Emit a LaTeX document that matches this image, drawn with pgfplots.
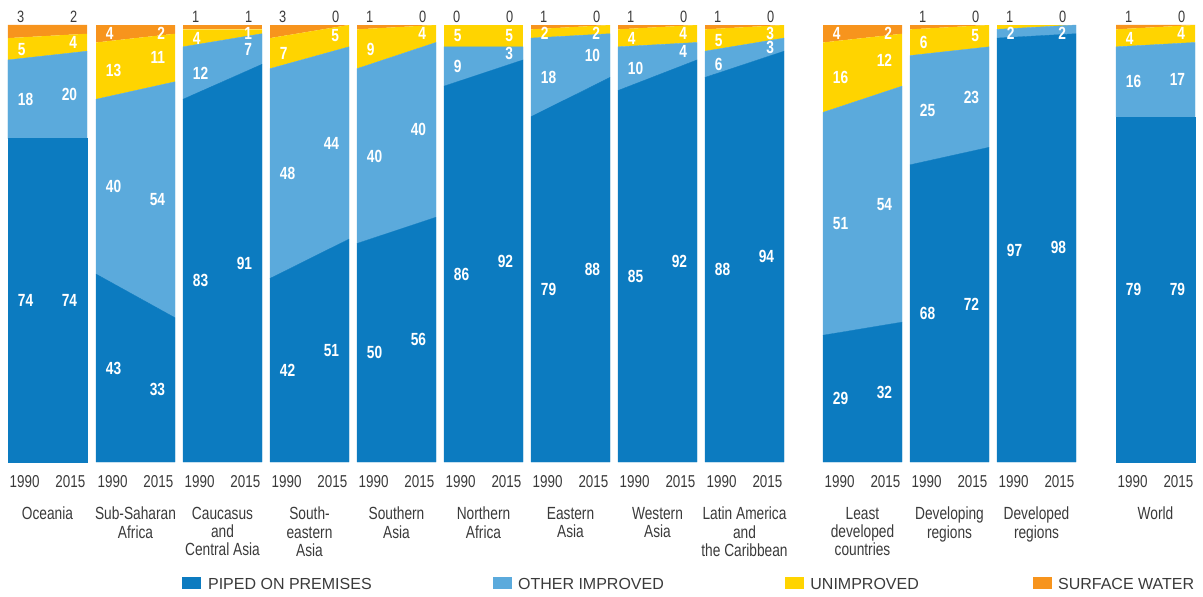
\documentclass[border=0pt]{standalone}
\usepackage{fontspec}
\setmainfont{Liberation Sans}
\newfontfamily\condfont{Liberation Sans}[FakeStretch=0.78]
\newfontfamily\valfont{Liberation Sans Bold}[FakeStretch=0.78]
\usepackage{pgfplots}
\pgfplotsset{compat=1.18}

\definecolor{piped}{HTML}{0C7BC0}
\definecolor{other}{HTML}{5BAADC}
\definecolor{unimp}{HTML}{FFD400}
\definecolor{surf}{HTML}{F7941D}
\definecolor{txt}{HTML}{3A3A3A}

% 1 px of the reference = 0.5pt; panels 79px wide, 437px high, bottom at 67pt
\pgfplotsset{
  panel/.style={scale only axis, width=39.5pt, height=218.5pt,
    xmin=0, xmax=1, ymin=0, ymax=100, axis lines=none,
    stack plots=y, clip=false, anchor=south west},
}
\tikzset{
  vl/.style={inner sep=0pt, text=white, font=\valfont\fontsize{8.8}{9}\selectfont},
  tl/.style={inner sep=0pt, text=txt, font=\condfont\fontsize{8.2}{9}\selectfont},
  yl/.style={inner sep=0pt, text=txt, font=\condfont\fontsize{8.6}{9}\selectfont},
  nl/.style={inner sep=0pt, text=txt, align=center, font=\condfont\fontsize{8.8}{9.15}\selectfont},
  lg/.style={inner sep=0pt, text=txt, anchor=base west, font=\fontsize{8}{9}\selectfont},
}

\def\oBadj{0}% nudge for a crowded 2015 label
% left(px), piped 1990/2015, other, unimproved, surface water
\newcommand\panel[9]{\def\pL{#1}\def\pA{#2}\def\pB{#3}\def\oA{#4}\def\oB{#5}%
  \def\uA{#6}\def\uB{#7}\def\sA{#8}\def\sB{#9}\panelbody}
% value label at 1990 / 2015 side, centred at percentage #1 (kept clear of the top)
\newcommand\labA[2]{\node[vl, anchor=west] at ({(\pL+9.5)*0.5pt},{67pt+min(#1,98.1)*2.185pt}) {#2};}
\newcommand\labB[2]{\node[vl, anchor=east] at ({(\pL+69.5)*0.5pt},{67pt+min(#1,98.1)*2.185pt}) {#2};}
\newcommand\panelbody[2]{%
\begin{axis}[panel, at={(\pL*0.5pt,67pt)}]
  \addplot[fill=piped, draw=piped, line width=0.2pt] coordinates {(0,\pA) (1,\pB)} \closedcycle;
  \addplot[fill=other, draw=other, line width=0.2pt] coordinates {(0,\oA) (1,\oB)} \closedcycle;
  \addplot[fill=unimp, draw=none] coordinates {(0,\uA) (1,\uB)} \closedcycle;
  \addplot[fill=surf, draw=none] coordinates {(0,\sA) (1,\sB)} \closedcycle;
  \node[yl, anchor=base west, yshift=-12.65pt] at (rel axis cs:0.016,0) {1990};
  \node[yl, anchor=base east, yshift=-12.65pt] at (rel axis cs:0.984,0) {2015};
  \node[nl, anchor=north, yshift=-22.3pt] at (rel axis cs:0.5,0) {#1};
\end{axis}
  \labA{\pA/2}{\pA}
  \labB{\pB/2}{\pB}
  \labA{\pA+\oA/2}{\oA}
  \labB{\pB+\oB/2+\oBadj}{\oB}
  #2}
\newcommand\uLab{\labA{\pA+\oA+\uA/2}{\uA}\labB{\pB+\oB+\uB/2}{\uB}}
\newcommand\sLab{\labA{\pA+\oA+\uA+\sA/2}{\sA}\labB{\pB+\oB+\uB+\sB/2}{\sB}}
\newcommand\topLab[2]{%
  \node[tl, anchor=base west] at ({(\pL+8.7)*0.5pt},286.85pt) {#1};
  \node[tl, anchor=base east] at ({(\pL+69.6)*0.5pt},286.85pt) {#2};}

\begin{document}
\begin{tikzpicture}
\path[use as bounding box] (0,0) rectangle (601.5pt,298pt);

\panel{8}{74}{74}{18}{20}{5}{4}{3}{2}{Oceania}{\uLab\topLab{3}{2}}
\panel{96}{43}{33}{40}{54}{13}{11}{4}{2}{Sub-Saharan\\Africa}{\uLab\sLab}
\panel{183}{83}{91}{12}{7}{4}{1}{1}{1}{Caucasus\\and\\Central Asia}{\uLab\topLab{1}{1}}
\panel{270}{42}{51}{48}{44}{7}{5}{3}{0}{South-\\eastern\\Asia}{\uLab\topLab{3}{0}}
\panel{357}{50}{56}{40}{40}{9}{4}{1}{0}{Southern\\Asia}{\uLab\topLab{1}{0}}
\panel{444}{86}{92}{9}{3}{5}{5}{0}{0}{Northern\\Africa}{\uLab\topLab{0}{0}}
\panel{531}{79}{88}{18}{10}{2}{2}{1}{0}{Eastern\\Asia}{\uLab\topLab{1}{0}}
\panel{618}{85}{92}{10}{4}{4}{4}{1}{0}{Western\\Asia}{\uLab\topLab{1}{0}}
\def\oBadj{-0.7}
\panel{705}{88}{94}{6}{3}{5}{3}{1}{0}{Latin America\\and\\the Caribbean}{\uLab\topLab{1}{0}}
\def\oBadj{0}
\panel{823}{29}{32}{51}{54}{16}{12}{4}{2}{Least\\developed\\countries}{\uLab\sLab}
\panel{910}{68}{72}{25}{23}{6}{5}{1}{0}{Developing\\regions}{\uLab\topLab{1}{0}}
\panel{997}{97}{98}{2}{2}{1}{0}{0}{0}{Developed\\regions}{\topLab{1}{0}}
\panel{1116}{79}{79}{16}{17}{4}{4}{1}{0}{World}{\uLab\topLab{1}{0}}

% legend
\fill[piped] (91.15pt,3.35pt) rectangle ++(9.2pt,6pt);
\node[lg] at (103.85pt,3.35pt) {PIPED ON PREMISES};
\fill[other] (246.65pt,3.35pt) rectangle ++(9.2pt,6pt);
\node[lg] at (258.85pt,3.35pt) {OTHER IMPROVED};
\fill[unimp] (392.65pt,3.35pt) rectangle ++(9.2pt,6pt);
\node[lg] at (405pt,3.35pt) {UNIMPROVED};
\fill[surf] (516.65pt,3.35pt) rectangle ++(9.2pt,6pt);
\node[lg] at (528.85pt,3.35pt) {SURFACE WATER};
\end{tikzpicture}
\end{document}
